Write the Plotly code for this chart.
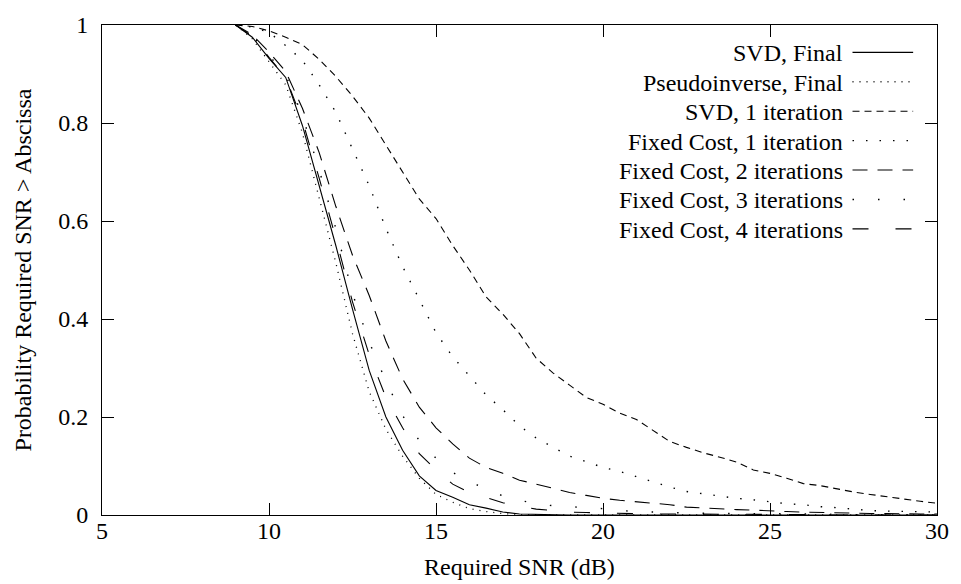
import plotly.graph_objects as go

# ---------------- data ----------------
snr_db = [9.0, 9.5, 10.0, 10.5, 11.0, 11.5, 12.0, 12.5, 13.0, 13.5, 14.0, 14.5,
          15.0, 15.5, 16.0, 16.5, 17.0, 17.5, 18.0, 18.5, 19.0, 19.5, 20.0, 20.5,
          21.0, 21.5, 22.0, 22.5, 23.0, 23.5, 24.0, 24.5, 25.0, 25.5, 26.0, 26.5,
          27.0, 27.5, 28.0, 28.5, 29.0, 29.5, 30.0]

svd_final = [1.0, 0.975, 0.932, 0.893, 0.795, 0.675, 0.55, 0.42, 0.295, 0.2, 0.132, 0.08,
             0.05, 0.036, 0.021, 0.014, 0.006, 0.002, 0.001, 0.0, 0.0, 0.0, 0.0, 0.0,
             0.0, 0.0, 0.0, 0.0, 0.0, 0.0, 0.0, 0.0, 0.0, 0.0, 0.0, 0.0,
             0.0, 0.0, 0.0, 0.0, 0.0, 0.0, 0.0]

pinv_final = [1.0, 0.972, 0.925, 0.878, 0.78, 0.65, 0.515, 0.37, 0.252, 0.175, 0.12, 0.075,
              0.042, 0.026, 0.013, 0.007, 0.003, 0.001, 0.0, 0.0, 0.0, 0.0, 0.0, 0.0,
              0.0, 0.0, 0.0, 0.0, 0.0, 0.0, 0.0, 0.0, 0.0, 0.0, 0.0, 0.0,
              0.0, 0.0, 0.0, 0.0, 0.0, 0.0, 0.0]

svd_1iter = [1.0, 0.997, 0.988, 0.975, 0.96, 0.93, 0.895, 0.855, 0.81, 0.755, 0.70, 0.645,
             0.605, 0.55, 0.50, 0.445, 0.41, 0.37, 0.32, 0.29, 0.265, 0.24, 0.226, 0.208,
             0.195, 0.172, 0.15, 0.138, 0.127, 0.118, 0.108, 0.092, 0.085, 0.075, 0.064, 0.06,
             0.053, 0.047, 0.042, 0.037, 0.032, 0.028, 0.024]

fc_1iter = [1.0, 0.996, 0.985, 0.958, 0.928, 0.878, 0.822, 0.748, 0.672, 0.585, 0.507, 0.44,
            0.372, 0.323, 0.285, 0.245, 0.215, 0.182, 0.157, 0.138, 0.12, 0.109, 0.097, 0.089,
            0.078, 0.067, 0.057, 0.048, 0.043, 0.039, 0.034, 0.031, 0.027, 0.023, 0.021, 0.017,
            0.015, 0.012, 0.009, 0.008, 0.007, 0.006, 0.006]

fc_2iter = [1.0, 0.98, 0.945, 0.905, 0.83, 0.74, 0.63, 0.53, 0.448, 0.355, 0.278, 0.22,
            0.178, 0.145, 0.116, 0.097, 0.085, 0.071, 0.063, 0.055, 0.046, 0.04, 0.034, 0.03,
            0.027, 0.024, 0.021, 0.016, 0.014, 0.012, 0.011, 0.01, 0.008, 0.007, 0.006, 0.005,
            0.004, 0.004, 0.003, 0.003, 0.002, 0.002, 0.002]

fc_3iter = [1.0, 0.978, 0.938, 0.898, 0.815, 0.705, 0.585, 0.452, 0.353, 0.273, 0.203, 0.152,
            0.116, 0.087, 0.068, 0.054, 0.039, 0.03, 0.023, 0.019, 0.017, 0.015, 0.013, 0.009,
            0.007, 0.006, 0.005, 0.004, 0.004, 0.003, 0.003, 0.003, 0.002, 0.002, 0.002, 0.002,
            0.001, 0.001, 0.001, 0.001, 0.001, 0.0, 0.0]

fc_4iter = [1.0, 0.977, 0.934, 0.893, 0.805, 0.688, 0.565, 0.435, 0.327, 0.24, 0.178, 0.125,
            0.092, 0.063, 0.046, 0.035, 0.025, 0.018, 0.012, 0.009, 0.006, 0.005, 0.004, 0.003,
            0.003, 0.002, 0.002, 0.002, 0.001, 0.001, 0.001, 0.001, 0.001, 0.001, 0.001, 0.0,
            0.0, 0.0, 0.0, 0.0, 0.0, 0.0, 0.0]

series_names = ["SVD, Final", "Pseudoinverse, Final", "SVD, 1 iteration",
                "Fixed Cost, 1 iteration", "Fixed Cost, 2 iterations",
                "Fixed Cost, 3 iterations", "Fixed Cost, 4 iterations"]
series_values = [svd_final, pinv_final, svd_1iter, fc_1iter, fc_2iter, fc_3iter, fc_4iter]

x_ticks = [5, 10, 15, 20, 25, 30]
x_tick_labels = ["5", "10", "15", "20", "25", "30"]
y_ticks = [0, 0.2, 0.4, 0.6, 0.8, 1]
y_tick_labels = ["0", "0.2", "0.4", "0.6", "0.8", "1"]

x_title = "Required SNR (dB)"
y_title = "Probability Required SNR > Abscissa"

# ---------------- styles ----------------
dashes = ["solid", "1px,6px", "7px,5px", "1.5px,12px", "15px,10px", "1.5px,24px", "16px,27px"]
widths = [1.1, 1.3, 1.1, 1.4, 1.1, 1.4, 1.1]

FONT = "'Liberation Serif', 'Times New Roman', Times, serif"
W, H = 961, 584
L, R, T, B = 102, 19, 13, 69
PW, PH = W - L - R, H - T - B

fig = go.Figure()
for name, vals, d, w in zip(series_names, series_values, dashes, widths):
    fig.add_trace(go.Scatter(x=snr_db, y=vals, mode="lines", name=name,
                             line=dict(color="black", width=w, dash=d),
                             showlegend=False))

# custom gnuplot-style key: text left, sample right
def px2paper_x(px):
    return (px - L) / PW

def px2paper_y(py):
    return (H - B - py) / PH

for i, (name, d, w) in enumerate(zip(series_names, dashes, widths)):
    yrow = 41 + 30.15 * i
    fig.add_annotation(x=px2paper_x(849), y=px2paper_y(yrow + 1), xref="paper", yref="paper",
                       text=name, showarrow=False, xanchor="right", yanchor="middle",
                       font=dict(family=FONT, size=24, color="black"))
    fig.add_shape(type="line", xref="paper", yref="paper",
                  x0=px2paper_x(857), x1=px2paper_x(918),
                  y0=px2paper_y(yrow), y1=px2paper_y(yrow),
                  line=dict(color="black", width=w, dash=d))

fig.add_annotation(x=0.5, y=px2paper_y(568), xref="paper", yref="paper", text=x_title,
                   showarrow=False, xanchor="center", yanchor="middle",
                   font=dict(family=FONT, size=24, color="black"))
fig.add_annotation(x=px2paper_x(23), y=0.5, xref="paper", yref="paper", text=y_title,
                   showarrow=False, xanchor="center", yanchor="middle", textangle=-90,
                   font=dict(family=FONT, size=24, color="black"))

axis_common = dict(showline=True, linecolor="black", linewidth=1, mirror="ticks",
                   ticks="inside", ticklen=12, tickwidth=1, tickcolor="black",
                   showgrid=False, zeroline=False,
                   tickfont=dict(family=FONT, size=24, color="black"))

fig.update_xaxes(range=[5, 30], tickvals=x_ticks, ticktext=x_tick_labels,
                 ticklabelstandoff=-6, **axis_common)
fig.update_yaxes(range=[0, 1], tickvals=y_ticks, ticktext=y_tick_labels,
                 ticklabelstandoff=8, **axis_common)

fig.update_layout(width=W, height=H, autosize=False,
                  margin=dict(l=L, r=R, t=T, b=B, pad=0),
                  paper_bgcolor="white", plot_bgcolor="white",
                  font=dict(family=FONT, size=24, color="black"),
                  showlegend=False)

fig.write_html("out.html")
